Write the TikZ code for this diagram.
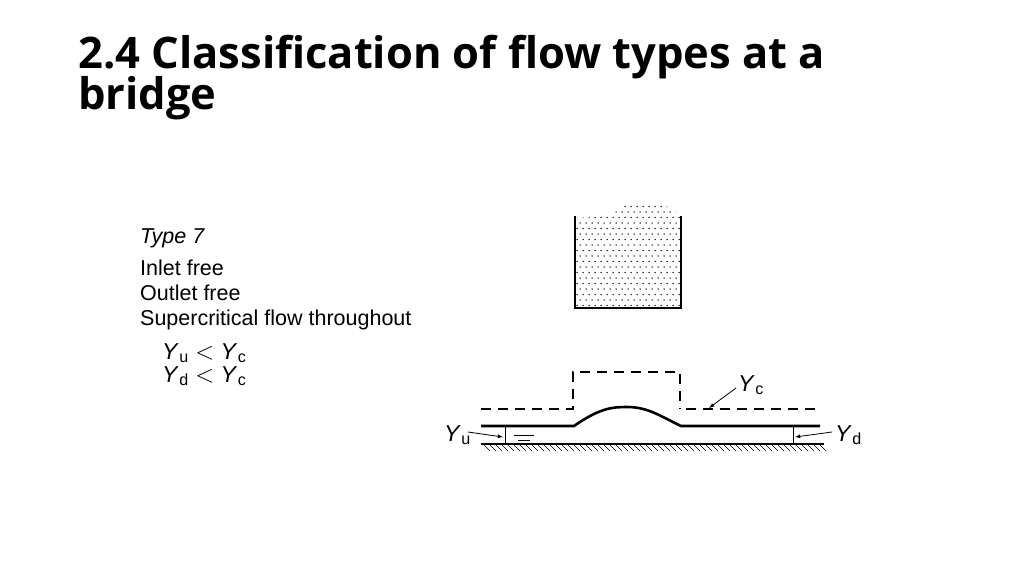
\documentclass[tikz,border=0pt]{standalone}
\usepackage{fontspec}
\setmainfont{Liberation Sans}
\newfontfamily\titlefont{Open Sans}
\newcommand{\YY}[1]{\textit{Y}\kern0.5pt\textsubscript{#1}}
\begin{document}
\begin{tikzpicture}[x=1pt,y=-1pt,
  lbl/.style={font=\fontsize{21.5}{24}\selectfont,anchor=base west,inner sep=0},
  ylbl/.style={font=\fontsize{23}{24}\selectfont,anchor=base west,inner sep=0},
  ycdash/.style={line width=1.5pt,dash pattern=on 10pt off 7pt},
  surf/.style={line width=2.6pt},
  arr/.style={-latex,line width=0.8pt}]
\useasboundingbox (0,0) rectangle (1024,575);
\node[anchor=base west,inner sep=0,font=\titlefont\bfseries\fontsize{43.5}{46}\selectfont] (t1) at (78,69) {2.4 Classification of flow types at a};
\node[anchor=base west,inner sep=0,font=\titlefont\bfseries\fontsize{43.5}{46}\selectfont] (t2) at (78,110) {bridge};
\node[lbl] (ty) at (140,243) {\itshape Type 7};
\node[lbl] (l1) at (140,275) {Inlet free};
\node[lbl] (l2) at (140,300) {Outlet free};
\node[lbl] (l3) at (140,325) {Supercritical flow throughout};
\node[ylbl] (l4) at (162,359) {\YY{u} $<$ \YY{c}};
\node[ylbl] (l5) at (162,382) {\YY{d} $<$ \YY{c}};
% stippled box
\begin{scope}
\clip (576,218) -- (576,307) -- (680,307) -- (680,215) -- (672,210) -- (660,202) -- (630,202) -- (615,212) -- (600,217) -- cycle;
\foreach \i in {0,...,20}{\foreach \j in {0,...,20}{
  \pgfmathsetmacro{\xx}{574+\i*6+mod(\j,2)*3}
  \pgfmathsetmacro{\yy}{201+\j*5.5}
  \fill (\xx,\yy) circle (0.75);}}
\end{scope}
\draw[line width=2pt] (575,216) -- (575,308) -- (681,308) -- (681,216);
% dashed critical depth
\draw[ycdash] (481,409) -- (573,409) -- (573,372) -- (680,372) -- (680,409);
\draw[ycdash] (686,409) -- (822,409);
% water surface
\draw[surf] (481,426) -- (574,426) .. controls (600,408) and (612,407) .. (627,407) .. controls (648,407) and (660,416) .. (681,426) -- (820,426);
% bed
\draw[line width=1.2pt] (481,444) -- (824,444);
\foreach \k in {0,...,56}{\draw[line width=0.6pt] (484+\k*6,445) -- (490+\k*6,451);}
\draw[line width=1pt] (505,426) -- (505,444);
\draw[line width=1pt] (793,426) -- (793,444);
% water symbol
\draw[line width=1pt] (514,435) -- (534,435);
\draw[line width=1pt] (518,440) -- (530,440);
% labels
\node[ylbl] (yu) at (444,441) {\YY{u}};
\node[ylbl] (yd) at (835,441) {\YY{d}};
\node[ylbl] (yc) at (738,391) {\YY{c}};
\coordinate (au) at (503,437);
\coordinate (ad) at (795,437);
\coordinate (ac) at (709,408);
\draw[arr] (468,432) -- (au);
\draw[arr] (832,432) -- (ad);
\draw[arr] (736,388) -- (ac);
\end{tikzpicture}
\end{document}
